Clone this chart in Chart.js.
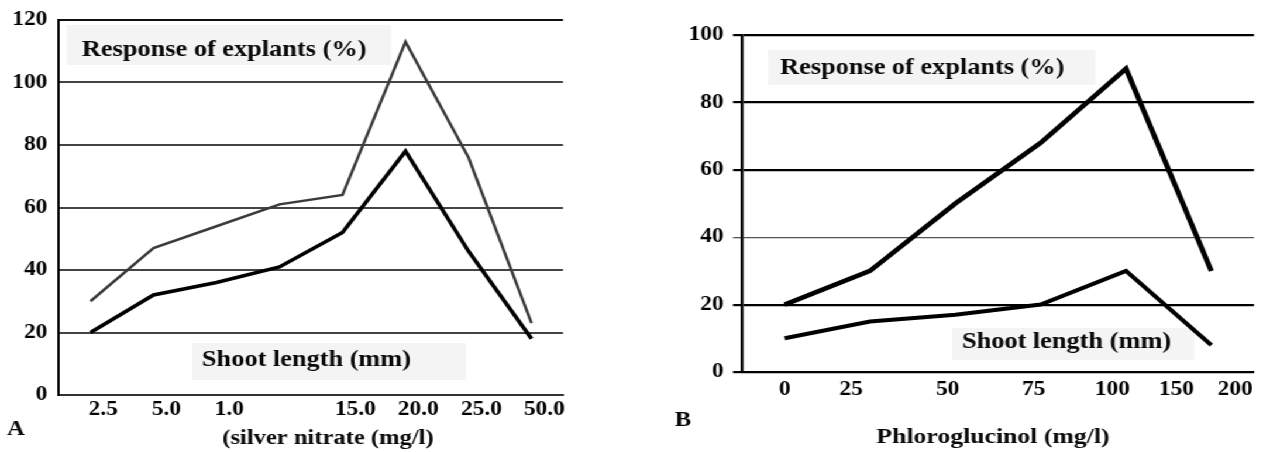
<!DOCTYPE html>
<html>
<head>
<meta charset="utf-8">
<script src="https://cdn.jsdelivr.net/npm/chart.js@4.4.1/dist/chart.umd.min.js"></script>
<style>
  html, body { margin: 0; padding: 0; background: #fff; }
  /* the source figure is stretched sideways, so the whole stage is too */
  #stage { position: relative; width: 1080px; height: 452px; transform: scaleX(1.17); transform-origin: 0 0; }
  canvas { position: absolute; top: 0; }
  #chartA { left: 0; width: 530px; height: 452px; }
  #chartB { left: 547px; width: 532px; height: 452px; }
</style>
</head>
<body>
<div id="stage">
  <canvas id="chartA" width="530" height="452"></canvas>
  <canvas id="chartB" width="532" height="452"></canvas>
</div>
<script>
// panel A: silver nitrate
const dosesA = ['2.5', '5.0', '1.0', '', '15.0', '20.0', '25.0', '50.0'];
const responseA = [30, 47, 54, 61, 64, 113, 76, 23];
const shootA = [20, 32, 36, 41, 52, 78, 46, 18];
const yTicksA = [0, 20, 40, 60, 80, 100, 120];

// panel B: phloroglucinol
const dosesB = ['0', '25', '50', '75', '100', '200'];
const responseB = [20, 30, 50, 68, 90, 30];
const shootB = [10, 15, 17, 20, 30, 8];
const tickLabelsB = ['0', '25', '50', '75', '100', '150', '200'];
const tickSlotsB = [0, 0.78, 1.91, 2.92, 3.84, 4.59, 5.28];
const yTicksB = [0, 20, 40, 60, 80, 100];

const FONT = 'Liberation Serif';
Chart.defaults.font.family = FONT;
Chart.defaults.font.weight = 'bold';
Chart.defaults.color = '#000';

const tickFont = { family: FONT, size: 20, weight: 'bold', lineHeight: 1 };

// text boxes, axis titles and panel letters
function notesPlugin(boxes, texts) {
  return {
    id: 'notes',
    beforeDatasetsDraw(chart) {
      const ctx = chart.ctx;
      ctx.save();
      ctx.fillStyle = '#f4f4f4';
      boxes.forEach(b => ctx.fillRect(b.x, b.y, b.w, b.h));
      ctx.restore();
    },
    afterDraw(chart) {
      const ctx = chart.ctx;
      ctx.save();
      ctx.fillStyle = '#0a0a0a';
      ctx.textBaseline = 'middle';
      texts.forEach(t => {
        ctx.font = `bold ${t.size}px "${FONT}"`;
        ctx.textAlign = t.align || 'left';
        ctx.fillText(t.text, t.x, t.y);
      });
      ctx.restore();
    }
  };
}

new Chart(document.getElementById('chartA'), {
  type: 'line',
  data: {
    labels: dosesA,
    datasets: [
      { label: 'Response of explants (%)', data: responseA, borderColor: '#3a3a3a', borderWidth: 2.5, pointRadius: 0, tension: 0 },
      { label: 'Shoot length (mm)', data: shootA, borderColor: '#000', borderWidth: 3.5, pointRadius: 0, tension: 0 }
    ]
  },
  options: {
    responsive: false,
    animation: false,
    devicePixelRatio: 1,
    layout: { padding: { left: 0, right: 48.8, top: 14, bottom: 0 } },
    plugins: { legend: { display: false }, tooltip: { enabled: false } },
    scales: {
      x: {
        offset: true,
        afterFit: s => { s.height = 57; },
        grid: { display: false, drawTicks: false },
        border: { color: '#333', width: 2 },
        ticks: { labelOffset: 11, padding: 5, autoSkip: false, maxRotation: 0, font: tickFont }
      },
      y: {
        min: yTicksA[0],
        max: yTicksA[yTicksA.length - 1],
        afterFit: s => { s.width = 50.4; },
        ticks: { stepSize: 20, padding: 10, font: tickFont },
        grid: {
          color: c => (c.tick && c.tick.value === 120 ? '#111' : '#444'),
          lineWidth: 2,
          drawTicks: false
        },
        border: { color: '#000', width: 2 }
      }
    }
  },
  plugins: [notesPlugin(
    [{ x: 57.3, y: 25, w: 277, h: 40 }, { x: 164.1, y: 343, w: 234, h: 37 }],
    [
      { text: 'Response of explants (%)', x: 70.1, y: 50, size: 22.5 },
      { text: 'Shoot length (mm)', x: 172.6, y: 360, size: 22.5 },
      { text: '(silver nitrate (mg/l)', x: 280.3, y: 439, size: 21, align: 'center' },
      { text: 'A', x: 13.7, y: 430, size: 21, align: 'center' }
    ]
  )]
});

new Chart(document.getElementById('chartB'), {
  type: 'line',
  data: {
    labels: dosesB,
    datasets: [
      { label: 'Response of explants (%)', data: responseB, xAxisID: 'x', yAxisID: 'y', borderColor: '#000', borderWidth: 4.5, pointRadius: 0, tension: 0 },
      { label: 'Shoot length (mm)', data: shootB, xAxisID: 'x', yAxisID: 'y', borderColor: '#000', borderWidth: 4, pointRadius: 0, tension: 0 }
    ]
  },
  options: {
    responsive: false,
    animation: false,
    devicePixelRatio: 1,
    layout: { padding: { left: 0, right: 5.5, top: 35, bottom: 0 } },
    plugins: { legend: { display: false }, tooltip: { enabled: false } },
    scales: {
      x: { type: 'category', display: false, offset: true },
      // tick labels of the source sit off the data points, so they get their own axis
      xt: {
        type: 'linear',
        axis: 'x',
        position: 'bottom',
        min: -0.5,
        max: dosesB.length - 0.5,
        afterBuildTicks: s => { s.ticks = tickSlotsB.map(v => ({ value: v })); },
        afterFit: s => { s.height = 80; },
        grid: { display: false, drawTicks: false },
        border: { color: '#000', width: 2 },
        ticks: { callback: (v, i) => tickLabelsB[i], autoSkip: false, maxRotation: 0, padding: 8, font: tickFont }
      },
      y: {
        min: yTicksB[0],
        max: yTicksB[yTicksB.length - 1],
        afterFit: s => { s.width = 87.2; },
        ticks: { stepSize: 20, padding: 8, font: tickFont },
        grid: {
          color: c => (c.tick && c.tick.value === 40 ? '#555' : '#000'),
          lineWidth: c => (c.tick && c.tick.value === 40 ? 1.3 : 2.2),
          drawTicks: true,
          tickLength: 7.7
        },
        border: { color: '#000', width: 2.5 }
      }
    }
  },
  plugins: [notesPlugin(
    [{ x: 109.4, y: 50, w: 280, h: 35 }, { x: 266.7, y: 328, w: 207, h: 32 }],
    [
      { text: 'Response of explants (%)', x: 119.7, y: 68, size: 22.5 },
      { text: 'Shoot length (mm)', x: 275.2, y: 342, size: 22.5 },
      { text: 'Phloroglucinol (mg/l)', x: 301.7, y: 437, size: 22, align: 'center' },
      { text: 'B', x: 36.8, y: 421, size: 21, align: 'center' }
    ]
  )]
});
</script>
</body>
</html>
